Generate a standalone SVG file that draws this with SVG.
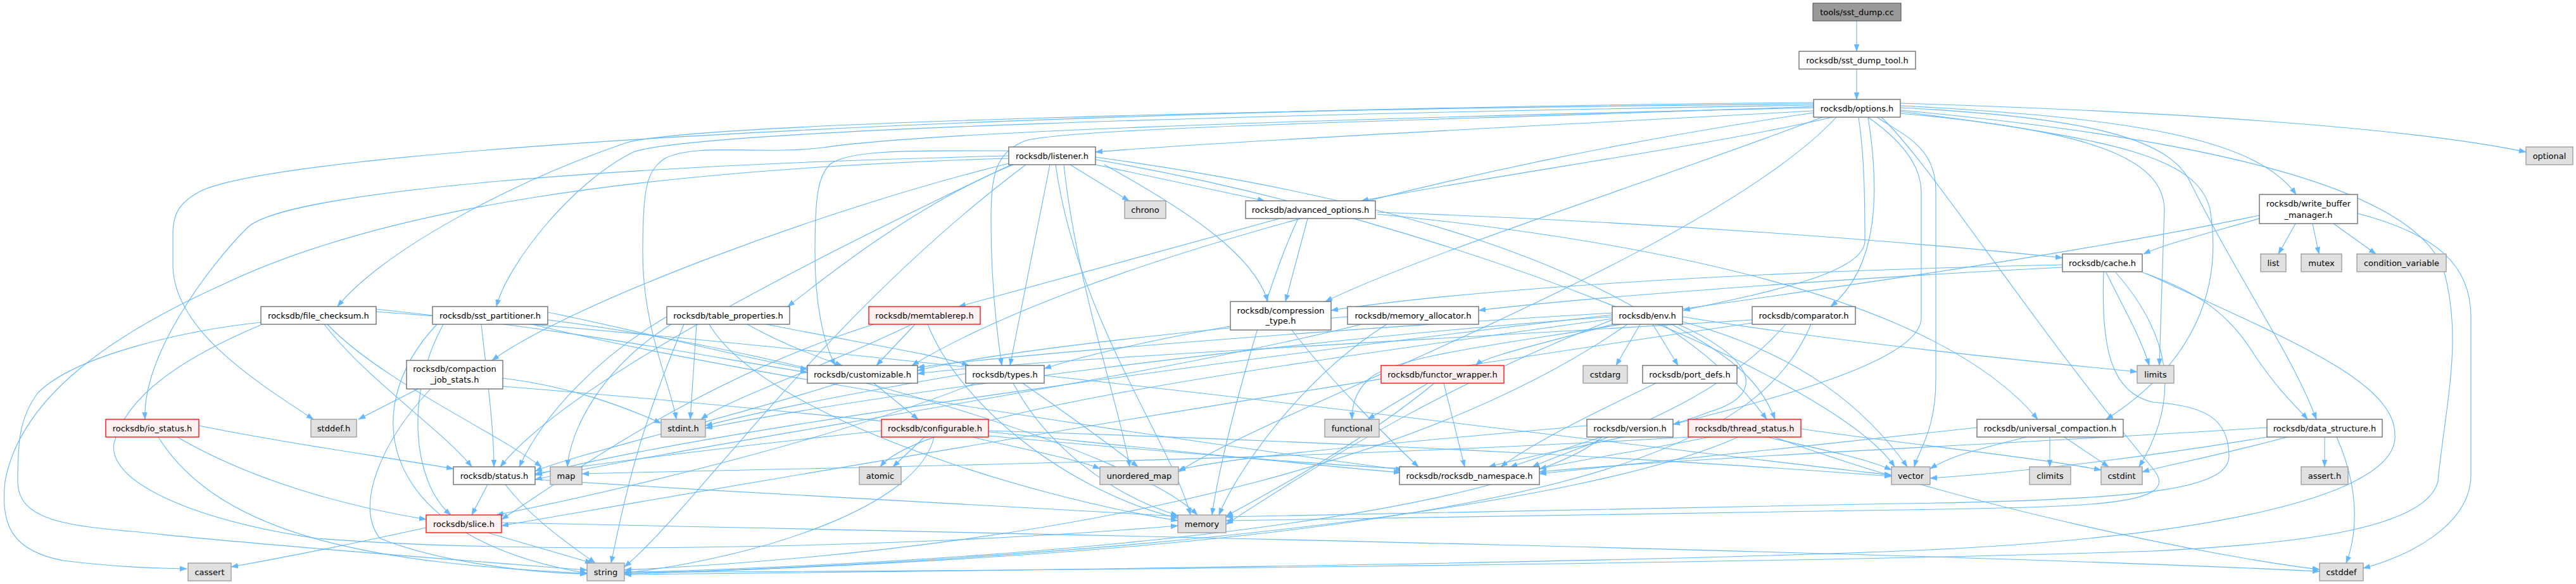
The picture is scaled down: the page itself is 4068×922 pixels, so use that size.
<svg xmlns="http://www.w3.org/2000/svg" width="4068" height="922" viewBox="0 0 4068 922">
<style>
rect{stroke-width:1.3}
.n rect{fill:#ffffff;stroke:#666666}
.x rect{fill:#e0e0e0;stroke:#999999}
.r rect{fill:#fff0f0;stroke:#ff0000}
.root rect{fill:#999999;stroke:#666666}
text{font-family:"DejaVu Sans","Liberation Sans",sans-serif;font-size:13px;fill:#000;text-anchor:middle}
#edges path{fill:none;stroke:#63b8ff;stroke-width:1.1;marker-end:url(#a)}
</style>
<defs>
<marker id="a" markerUnits="userSpaceOnUse" markerWidth="12" markerHeight="9" refX="11" refY="4.5" orient="auto">
<path d="M0,0.5 L11,4.5 L0,8.5 z" fill="#63b8ff" stroke="#63b8ff" stroke-width="0.5"/>
</marker>
</defs>
<rect width="4068" height="922" fill="#ffffff"/>
<g id="edges">
<path d="M2932,33 L2932,81"/>
<path d="M2932,109 L2932,157"/>
<!-- options -->
<path d="M3001,163 C3400,175 3800,200 3989,240"/>
<path d="M3001,167 C3350,185 3560,215 3626,307"/>
<path d="M2864,175 C2500,195 1950,222 1730,240"/>
<path d="M2894,185 C2700,230 2400,270 2150,317"/>
<path d="M2864,166 C2000,180 1100,205 1000,240 C900,290 800,420 784,484"/>
<path d="M2864,164 C2000,172 1100,195 990,225 C800,290 600,400 533,484"/>
<path d="M2864,162 C1800,170 500,225 320,300 C285,318 273,335 273,370 L273,420 C275,520 400,600 495,662"/>
<path d="M2878,185 C2600,290 2250,400 2093,476"/>
<path d="M2864,178 C2300,260 1700,420 1440,577"/>
<path d="M2864,168 C2300,190 1700,200 1620,222 C1570,240 1565,280 1565,350 C1565,450 1575,530 1582,577"/>
<path d="M2935,185 C2945,250 2945,330 2945,380 C2945,430 2800,460 2658,490"/>
<path d="M2950,185 C2968,300 2968,420 2891,484"/>
<path d="M3001,170 C3300,185 3430,220 3460,290 C3540,450 3620,560 3658,662"/>
<path d="M3001,176 C3350,220 3470,250 3490,330 C3510,450 3470,570 3326,662"/>
<path d="M2950,185 C3000,220 3034,260 3034,303 L3034,502 C3034,570 2800,630 2642,670"/>
<path d="M2864,170 C2000,190 1450,210 1300,233 C1200,245 1100,225 1050,250 C1020,270 1015,300 1015,400 C1015,520 1060,610 1068,662"/>
<path d="M3001,179 C3300,205 3416,250 3418,330 L3410,577"/>
<path d="M2971,185 C3050,260 3200,500 3400,740 C3450,800 3300,800 3000,805 C2500,815 2100,818 1936,822"/>
<path d="M3001,174 C3500,220 3820,300 3860,430 C3890,540 3860,650 3850,760 C3830,840 3600,860 3400,870 C2800,890 1500,903 986,903"/>
<path d="M2900,185 C2700,400 2000,650 1861,745"/>
<path d="M2964,185 C3000,210 3057,230 3057,300 L3057,600 C3057,680 3030,710 3023,737"/>
<!-- listener -->
<path d="M1690,260 L1783,317"/>
<path d="M1730,260 L1997,317"/>
<path d="M1593,258 C1300,330 900,480 777,569"/>
<path d="M1600,260 C1450,320 1300,440 1244,484"/>
<path d="M1593,246 C1000,260 450,300 390,360 C330,420 225,560 229,662"/>
<path d="M1593,250 C1000,268 600,330 350,450 C150,540 30,640 8,760 C0,830 20,870 100,885 C180,895 240,897 295,898"/>
<path d="M1597,260 C1300,400 900,600 790,737"/>
<path d="M1744,260 C1870,330 1980,400 2002,476"/>
<path d="M1593,238 C1450,238 1340,235 1310,260 C1290,280 1287,320 1287,400 C1287,480 1300,540 1319,577"/>
<path d="M1730,248 C2100,300 2600,400 2790,662"/>
<path d="M1658,260 L1595,577"/>
<path d="M1667,260 C1700,500 1850,700 1880,813"/>
<path d="M1620,260 C1300,500 1100,800 986,895"/>
<path d="M1680,260 C1700,450 1770,650 1784,737"/>
<path d="M1730,252 C2300,350 2900,600 2992,737"/>
<!-- advanced_options -->
<path d="M2175,335 C2600,350 3000,380 3257,407"/>
<path d="M2065,345 L2030,476"/>
<path d="M2021,345 L1514,484"/>
<path d="M2175,338 C2800,400 3100,520 3218,662"/>
<path d="M2050,345 C2000,450 1930,700 1914,813"/>
<!-- write_buffer_manager -->
<path d="M3625,353 L3598,401"/>
<path d="M3652,353 L3662,401"/>
<path d="M3685,353 L3752,401"/>
<path d="M3568,345 C3480,370 3420,385 3385,401"/>
<path d="M3723,337 C3850,370 3902,420 3902,500 L3902,750 C3902,830 3800,880 3732,897"/>
<path d="M3568,340 C2800,500 1500,600 1390,737"/>
<!-- cache -->
<path d="M3257,418 C2700,430 2300,460 2102,490"/>
<path d="M3257,422 C2900,440 2500,470 2335,490"/>
<path d="M3383,430 C3470,460 3520,495 3560,560 C3600,620 3630,645 3644,662"/>
<path d="M3326,430 C3350,480 3380,530 3394,577"/>
<path d="M3322,429 C3318,540 3330,620 3400,635 C3480,640 3520,660 3520,720 C3520,770 3400,790 3000,795 C2500,805 2100,812 1936,816"/>
<path d="M3390,432 C3600,530 3782,600 3782,686 C3790,780 3500,850 3000,870 C2500,890 1500,902 986,907"/>
<path d="M3341,430 C3420,520 3450,620 3378,737"/>
<!-- file_checksum -->
<path d="M412,509 C300,520 120,560 60,620 C30,660 28,700 28,760 C28,820 100,830 220,840 C400,860 800,890 927,900"/>
<path d="M517,512 C600,600 780,680 855,737"/>
<path d="M512,512 C580,600 700,680 745,737"/>
<path d="M412,513 C300,560 200,620 180,700 C170,760 300,820 500,850 C900,880 1500,860 1860,830"/>
<path d="M594,488 C900,520 1100,560 1275,588"/>
<path d="M594,492 C1500,560 2700,720 2987,750"/>
<!-- sst_partitioner -->
<path d="M865,493 C1000,520 1150,560 1275,583"/>
<path d="M700,512 C640,620 650,760 712,813"/>
<path d="M760,512 C770,600 780,680 780,737"/>
<path d="M690,512 C560,650 600,850 927,905"/>
<path d="M865,505 C1300,560 1800,720 1891,813"/>
<path d="M840,512 C1200,600 1900,700 2215,742"/>
<!-- compaction_job_stats -->
<path d="M660,614 L566,662"/>
<path d="M680,614 C600,700 560,800 600,850 C700,890 850,905 927,906"/>
<path d="M794,597 C900,610 980,640 1044,668"/>
<path d="M794,610 C1300,650 1900,720 2212,746"/>
<!-- table_properties -->
<path d="M1100,512 C1095,580 1092,630 1090,662"/>
<path d="M1060,512 C950,580 900,680 896,737"/>
<path d="M1120,512 C1200,650 1600,780 1860,822"/>
<path d="M1080,512 C1000,700 980,820 965,889"/>
<path d="M1180,512 C1230,540 1280,560 1330,577"/>
<path d="M1053,500 C950,560 860,650 820,737"/>
<path d="M1210,512 C1350,540 1480,560 1530,577"/>
<!-- memtablerep -->
<path d="M1440,512 C1300,580 1150,630 1107,662"/>
<path d="M1465,512 C1520,650 1700,780 1860,818"/>
<path d="M1445,512 L1384,577"/>
<path d="M1380,512 C1100,600 900,750 792,820"/>
<!-- customizable -->
<path d="M1380,605 L1450,662"/>
<path d="M1325,605 C1150,660 900,720 845,744"/>
<!-- types -->
<path d="M1525,590 C1350,620 1200,650 1114,672"/>
<path d="M1600,605 C1650,700 1750,780 1860,814"/>
<path d="M1615,605 C1680,650 1750,700 1797,737"/>
<path d="M1540,605 C1300,700 950,780 784,813"/>
<!-- configurable -->
<path d="M1460,690 L1410,737"/>
<path d="M1475,690 C1450,800 1200,880 986,905"/>
<path d="M1535,690 C1620,710 1700,725 1737,740"/>
<path d="M1561,680 C2200,700 2700,730 2987,752"/>
<path d="M1561,688 C1800,710 2100,735 2222,740"/>
<path d="M1392,680 C1200,700 950,730 845,748"/>
<!-- compression_type -->
<path d="M2040,521 C2100,600 2200,700 2240,737"/>
<path d="M1943,515 C1800,540 1700,565 1649,582"/>
<!-- memory_allocator -->
<path d="M2190,512 C2050,600 1950,750 1925,813"/>
<path d="M2128,500 C1800,530 1550,560 1449,585"/>
<path d="M2150,512 C1800,600 1100,700 845,757"/>
<!-- env -->
<path d="M2546,500 C2000,540 1400,620 1114,676"/>
<path d="M2590,512 L2552,577"/>
<path d="M2560,512 C2400,540 2200,560 2160,600 C2140,620 2135,640 2135,662"/>
<path d="M2657,500 C2900,540 3200,570 3375,587"/>
<path d="M2546,505 C2300,600 2100,720 1936,828"/>
<path d="M2570,512 C2300,700 1800,860 986,900"/>
<path d="M2657,508 C2850,560 2950,650 3012,737"/>
<path d="M2546,494 C2100,520 1600,560 1449,580"/>
<path d="M2560,508 C2450,540 2350,560 2330,577"/>
<path d="M2610,512 L2650,577"/>
<path d="M2546,497 C2000,560 1100,680 845,750"/>
<path d="M2640,512 C2730,560 2780,600 2803,662"/>
<path d="M2650,512 C2760,560 2800,620 2700,650 C2600,690 2450,710 2351,737"/>
<!-- comparator -->
<path d="M2860,512 C2780,700 2500,860 986,906"/>
<path d="M2767,505 C2200,540 1600,570 1449,590"/>
<path d="M2820,512 C2700,650 2500,700 2420,737"/>
<path d="M2767,510 C2000,620 1200,760 792,830"/>
<!-- functor_wrapper -->
<path d="M2255,605 L2160,662"/>
<path d="M2265,605 C2150,700 2000,780 1936,815"/>
<path d="M2280,605 L2313,737"/>
<!-- port_defs -->
<path d="M2615,605 C2500,660 2420,700 2370,737"/>
<!-- version -->
<path d="M2530,690 C2400,800 1800,880 986,904"/>
<path d="M2506,672 C2200,700 1950,720 1861,742"/>
<path d="M2528,690 L2385,737"/>
<!-- thread_status -->
<path d="M2802,690 C3100,800 3500,880 3663,899"/>
<path d="M2844,677 C3000,700 3200,720 3318,742"/>
<path d="M2666,690 C2000,730 1200,740 919,748"/>
<path d="M2745,690 C2500,800 1800,880 986,906"/>
<path d="M2790,690 C2880,710 2950,725 2987,742"/>
<path d="M2700,690 C2600,710 2500,725 2431,740"/>
<!-- universal_compaction -->
<path d="M3237,690 L3237,737"/>
<path d="M3260,690 L3330,737"/>
<path d="M3200,690 C3120,710 3080,720 3048,740"/>
<path d="M3122,675 C2900,700 2600,730 2431,748"/>
<!-- data_structure -->
<path d="M3671,690 L3671,737"/>
<path d="M3690,690 C3730,780 3720,850 3705,889"/>
<path d="M3612,690 C3500,720 3420,735 3383,745"/>
<path d="M3580,690 C3400,720 3200,745 3048,755"/>
<path d="M3580,675 C3200,700 2700,720 2431,745"/>
<!-- io_status -->
<path d="M250,690 C350,850 600,890 927,905"/>
<path d="M280,690 C400,760 550,800 673,820"/>
<path d="M314,672 C450,700 600,720 716,740"/>
<!-- status -->
<path d="M770,765 L745,813"/>
<path d="M798,765 C840,820 900,860 940,889"/>
<path d="M845,757 C1200,780 1600,800 1860,815"/>
<!-- slice -->
<path d="M673,833 C550,860 450,880 365,895"/>
<path d="M770,841 L935,889"/>
<path d="M792,825 C1500,840 3000,870 3663,902"/>
</g>
<g id="n-sst_dump_cc" class="root"><rect x="2863" y="5" width="139" height="28"/><text x="2932.5" y="23.5">tools/sst_dump.cc</text></g>
<g id="n-sst_dump_tool" class="n"><rect x="2841" y="81" width="184" height="28"/><text x="2933" y="99.5">rocksdb/sst_dump_tool.h</text></g>
<g id="n-options" class="n"><rect x="2864" y="157" width="137" height="28"/><text x="2932.5" y="175.5">rocksdb/options.h</text></g>
<g id="n-listener" class="n"><rect x="1593" y="232" width="137" height="28"/><text x="1661.5" y="250.5">rocksdb/listener.h</text></g>
<g id="n-optional" class="x"><rect x="3989" y="232" width="74" height="28"/><text x="4026" y="250.5">optional</text></g>
<g id="n-advanced_options" class="n"><rect x="1967" y="317" width="205" height="28"/><text x="2069.5" y="335.5">rocksdb/advanced_options.h</text></g>
<g id="n-chrono" class="x"><rect x="1776" y="317" width="65" height="28"/><text x="1808.5" y="335.5">chrono</text></g>
<g id="n-write_buffer_manager" class="n"><rect x="3568" y="307" width="155" height="46"/><text x="3645.5" y="326">rocksdb/write_buffer</text><text x="3645.5" y="343.5">_manager.h</text></g>
<g id="n-cache" class="n"><rect x="3257" y="401" width="126" height="28"/><text x="3320" y="419.5">rocksdb/cache.h</text></g>
<g id="n-list" class="x"><rect x="3570" y="401" width="40" height="28"/><text x="3590" y="419.5">list</text></g>
<g id="n-mutex" class="x"><rect x="3634" y="401" width="64" height="28"/><text x="3666" y="419.5">mutex</text></g>
<g id="n-condition_variable" class="x"><rect x="3722" y="401" width="141" height="28"/><text x="3792.5" y="419.5">condition_variable</text></g>
<g id="n-file_checksum" class="n"><rect x="412" y="484" width="182" height="28"/><text x="503" y="502.5">rocksdb/file_checksum.h</text></g>
<g id="n-sst_partitioner" class="n"><rect x="683" y="484" width="182" height="28"/><text x="774" y="502.5">rocksdb/sst_partitioner.h</text></g>
<g id="n-table_properties" class="n"><rect x="1053" y="484" width="194" height="28"/><text x="1150" y="502.5">rocksdb/table_properties.h</text></g>
<g id="n-memtablerep" class="r"><rect x="1372" y="484" width="176" height="28"/><text x="1460" y="502.5">rocksdb/memtablerep.h</text></g>
<g id="n-compression_type" class="n"><rect x="1943" y="476" width="159" height="45"/><text x="2022.5" y="494.5">rocksdb/compression</text><text x="2022.5" y="511">_type.h</text></g>
<g id="n-memory_allocator" class="n"><rect x="2128" y="484" width="207" height="28"/><text x="2231.5" y="502.5">rocksdb/memory_allocator.h</text></g>
<g id="n-env" class="n"><rect x="2546" y="484" width="111" height="28"/><text x="2601.5" y="502.5">rocksdb/env.h</text></g>
<g id="n-comparator" class="n"><rect x="2767" y="484" width="163" height="28"/><text x="2848.5" y="502.5">rocksdb/comparator.h</text></g>
<g id="n-compaction_job_stats" class="n"><rect x="642" y="569" width="152" height="45"/><text x="718" y="587">rocksdb/compaction</text><text x="718" y="604">_job_stats.h</text></g>
<g id="n-customizable" class="n"><rect x="1275" y="577" width="174" height="28"/><text x="1362" y="595.5">rocksdb/customizable.h</text></g>
<g id="n-types" class="n"><rect x="1525" y="577" width="124" height="28"/><text x="1587" y="595.5">rocksdb/types.h</text></g>
<g id="n-functor_wrapper" class="r"><rect x="2181" y="577" width="194" height="28"/><text x="2278" y="595.5">rocksdb/functor_wrapper.h</text></g>
<g id="n-cstdarg" class="x"><rect x="2500" y="577" width="70" height="28"/><text x="2535" y="595.5">cstdarg</text></g>
<g id="n-port_defs" class="n"><rect x="2594" y="577" width="149" height="28"/><text x="2668.5" y="595.5">rocksdb/port_defs.h</text></g>
<g id="n-limits" class="x"><rect x="3375" y="577" width="58" height="28"/><text x="3404" y="595.5">limits</text></g>
<g id="n-io_status" class="r"><rect x="167" y="662" width="147" height="28"/><text x="240.5" y="680.5">rocksdb/io_status.h</text></g>
<g id="n-stddef_h" class="x"><rect x="491" y="662" width="72" height="28"/><text x="527" y="680.5">stddef.h</text></g>
<g id="n-stdint_h" class="x"><rect x="1044" y="662" width="70" height="28"/><text x="1079" y="680.5">stdint.h</text></g>
<g id="n-configurable" class="r"><rect x="1392" y="662" width="169" height="28"/><text x="1476.5" y="680.5">rocksdb/configurable.h</text></g>
<g id="n-functional" class="x"><rect x="2092" y="662" width="86" height="28"/><text x="2135" y="680.5">functional</text></g>
<g id="n-version" class="n"><rect x="2506" y="662" width="136" height="28"/><text x="2574" y="680.5">rocksdb/version.h</text></g>
<g id="n-thread_status" class="r"><rect x="2666" y="662" width="178" height="28"/><text x="2755" y="680.5">rocksdb/thread_status.h</text></g>
<g id="n-universal_compaction" class="n"><rect x="3122" y="662" width="231" height="28"/><text x="3237.5" y="680.5">rocksdb/universal_compaction.h</text></g>
<g id="n-data_structure" class="n"><rect x="3580" y="662" width="182" height="28"/><text x="3671" y="680.5">rocksdb/data_structure.h</text></g>
<g id="n-status" class="n"><rect x="716" y="737" width="129" height="28"/><text x="780.5" y="755.5">rocksdb/status.h</text></g>
<g id="n-map" class="x"><rect x="869" y="737" width="50" height="28"/><text x="894" y="755.5">map</text></g>
<g id="n-atomic" class="x"><rect x="1357" y="737" width="66" height="28"/><text x="1390" y="755.5">atomic</text></g>
<g id="n-unordered_map" class="x"><rect x="1737" y="737" width="124" height="28"/><text x="1799" y="755.5">unordered_map</text></g>
<g id="n-rocksdb_namespace" class="n"><rect x="2210" y="737" width="221" height="28"/><text x="2320.5" y="755.5">rocksdb/rocksdb_namespace.h</text></g>
<g id="n-vector" class="x"><rect x="2987" y="737" width="61" height="28"/><text x="3017.5" y="755.5">vector</text></g>
<g id="n-climits" class="x"><rect x="3205" y="737" width="65" height="28"/><text x="3237.5" y="755.5">climits</text></g>
<g id="n-cstdint" class="x"><rect x="3318" y="737" width="65" height="28"/><text x="3350.5" y="755.5">cstdint</text></g>
<g id="n-assert_h" class="x"><rect x="3634" y="737" width="74" height="28"/><text x="3671" y="755.5">assert.h</text></g>
<g id="n-slice" class="r"><rect x="673" y="813" width="119" height="28"/><text x="732.5" y="831.5">rocksdb/slice.h</text></g>
<g id="n-memory" class="x"><rect x="1860" y="813" width="76" height="28"/><text x="1898" y="831.5">memory</text></g>
<g id="n-cassert" class="x"><rect x="297" y="889" width="68" height="28"/><text x="331" y="907.5">cassert</text></g>
<g id="n-string" class="x"><rect x="927" y="889" width="59" height="28"/><text x="956.5" y="907.5">string</text></g>
<g id="n-cstddef" class="x"><rect x="3663" y="889" width="69" height="28"/><text x="3697.5" y="907.5">cstddef</text></g>
</svg>
